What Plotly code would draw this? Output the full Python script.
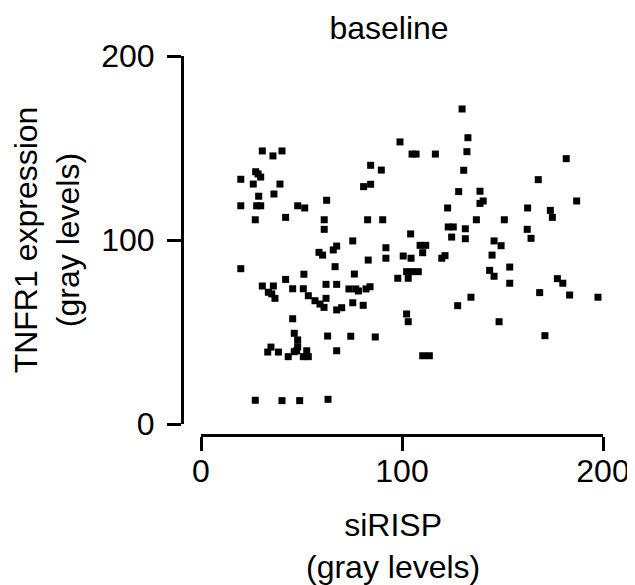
import plotly.graph_objects as go

# siRISP (gray levels) values
sirisp = [
    30.5, 35.8, 40.3, 27.2, 28.4, 29.7, 19.8, 26.0, 39.3, 28.7, 36.3, 19.8, 27.7, 29.7, 48.1,
    51.6, 62.5, 27.0, 42.1, 61.3, 61.3, 19.8, 58.7, 60.5, 65.8, 67.5, 66.7, 51.2, 42.1, 30.5,
    36.0, 33.5, 35.2, 36.8, 45.6, 50.9, 53.4, 56.7, 59.2, 61.2, 62.2, 62.2, 67.5, 67.5, 45.6,
    46.4, 48.1, 48.1, 47.6, 63.0, 67.5, 34.8, 33.2, 38.5, 43.4, 46.4, 50.9, 52.6, 53.4, 27.0,
    40.3, 49.1, 63.2, 129.9, 99.0, 105.0, 107.0, 116.6, 84.4, 89.7, 80.9, 84.4, 82.9, 90.4, 122.7,
    128.2, 130.7, 132.3, 132.8, 123.0, 125.5, 124.7, 131.5, 131.5, 104.3, 75.5, 92.0, 109.0, 111.8, 110.3,
    121.4, 119.8, 92.0, 83.2, 100.6, 104.5, 76.3, 102.3, 105.1, 108.1, 97.9, 103.1, 73.6, 77.0, 78.3,
    82.1, 84.1, 75.5, 80.7, 70.0, 127.7, 134.3, 102.3, 103.1, 74.5, 86.7, 110.3, 113.6, 181.7, 167.8,
    138.8, 138.8, 140.4, 186.9, 162.5, 173.8, 174.8, 137.0, 150.9, 145.8, 149.3, 162.3, 164.2, 144.8, 143.6,
    145.8, 153.6, 153.6, 177.3, 180.0, 168.5, 183.4, 197.5, 148.3, 171.1,
]

# TNFR1 expression (gray levels) values
tnfr1 = [
    148.4, 145.7, 148.4, 137.1, 135.9, 134.2, 133.0, 130.4, 130.4, 123.8, 125.0, 118.6, 118.6, 118.6, 118.6,
    117.4, 121.6, 111.0, 112.3, 111.0, 105.8, 84.4, 93.3, 91.8, 94.6, 96.7, 85.5, 81.4, 78.6, 75.0,
    75.0, 71.6, 70.7, 68.3, 73.5, 73.5, 69.7, 67.0, 65.2, 63.4, 68.3, 75.9, 75.9, 62.0, 57.2,
    49.3, 45.7, 42.0, 39.8, 47.8, 39.8, 41.8, 39.1, 39.1, 36.6, 39.3, 36.6, 39.8, 36.6, 12.9,
    12.7, 12.7, 13.4, 171.2, 153.3, 146.7, 146.7, 146.7, 140.6, 138.0, 129.0, 130.3, 111.0, 111.0, 117.4,
    126.3, 137.9, 148.0, 155.6, 107.1, 107.1, 101.6, 106.1, 100.7, 103.3, 99.5, 95.8, 97.1, 97.1, 93.1,
    91.5, 90.1, 90.1, 89.1, 91.3, 90.1, 81.5, 82.8, 82.8, 82.8, 79.2, 79.2, 73.4, 73.4, 72.3,
    73.4, 74.6, 65.9, 64.5, 63.2, 64.3, 68.9, 59.8, 55.6, 47.7, 47.3, 37.1, 37.1, 144.2, 132.8,
    126.5, 119.9, 121.2, 121.2, 117.4, 116.1, 112.3, 111.0, 111.0, 99.5, 96.9, 105.8, 100.9, 91.8, 83.5,
    80.3, 85.3, 76.5, 79.0, 76.5, 71.4, 70.1, 68.9, 55.6, 48.0,
]

tick_vals = [0, 100, 200]
tick_text = ["0", "100", "200"]

W, H = 635, 585
OFF = 8  # page body margin
FONT = "Liberation Sans, Arial, sans-serif"
FS = 32


def px_x(p):
    return (p - OFF) / W


def px_y(p):
    return (H - (p - OFF)) / H


fig = go.Figure(
    go.Scatter(
        x=sirisp,
        y=tnfr1,
        mode="markers",
        marker=dict(symbol="square", size=7, color="black", line=dict(width=0)),
        showlegend=False,
    )
)

axis_common = dict(
    range=[0, 200],
    tickvals=tick_vals,
    ticktext=tick_text,
    showgrid=False,
    zeroline=False,
    showline=True,
    linecolor="black",
    linewidth=3,
    ticks="outside",
    ticklen=14,
    tickwidth=3,
    tickcolor="black",
    tickfont=dict(family=FONT, size=FS, color="black"),
    automargin=False,
)

fig.update_layout(
    width=W,
    height=H,
    margin=dict(l=0, r=0, t=0, b=0),
    paper_bgcolor="white",
    plot_bgcolor="white",
    font=dict(family=FONT, size=FS, color="black"),
    title=dict(
        text="baseline",
        x=px_x(389),
        xanchor="center",
        yref="container",
        y=px_y(28),
        yanchor="middle",
        font=dict(family=FONT, size=FS, color="black"),
    ),
    xaxis=dict(
        axis_common,
        domain=[px_x(201), px_x(603)],
        anchor="free",
        position=px_y(435),
        ticklabelstandoff=-7,
    ),
    yaxis=dict(
        axis_common,
        domain=[px_y(424), px_y(56)],
        anchor="free",
        position=px_x(182),
        ticklabelstandoff=6,
        title=dict(text="TNFR1 expression<br>(gray levels)", standoff=13,
                   font=dict(family=FONT, size=FS, color="black")),
    ),
    annotations=[
        dict(
            text="siRISP<br>(gray levels)",
            xref="paper", yref="paper",
            x=px_x(393), y=px_y(546),
            xanchor="center", yanchor="middle",
            showarrow=False,
            font=dict(family=FONT, size=FS, color="black"),
        )
    ],
)

fig.write_html("out.html")
